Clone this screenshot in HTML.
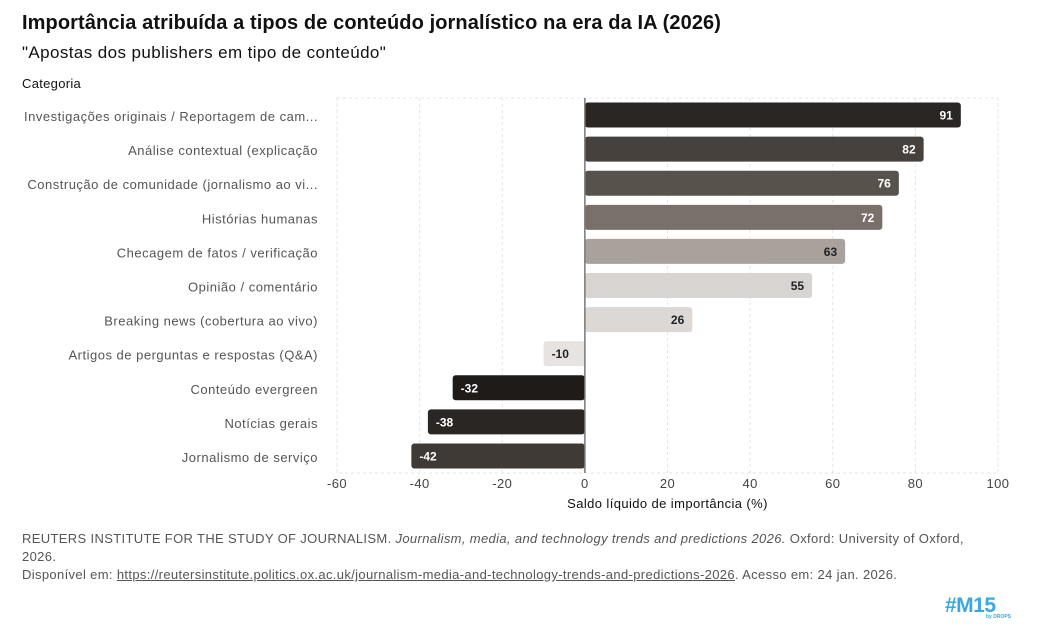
<!DOCTYPE html>
<html><head><meta charset="utf-8"><style>
body{margin:0;background:#fff;font-family:"Liberation Sans","DejaVu Sans",sans-serif;}
#wrap{position:relative;width:1037px;height:638px;overflow:hidden}
.t{position:absolute;white-space:nowrap}
</style></head><body>
<div id="wrap">
<div class="t" style="left:22px;top:12px;font-size:20px;font-weight:bold;color:#111;letter-spacing:0.1px">Importância atribuída a tipos de conteúdo jornalístico na era da IA (2026)</div>
<div class="t" style="left:22px;top:43px;font-size:17px;color:#111;letter-spacing:0.4px">"Apostas dos publishers em tipo de conteúdo"</div>
<div class="t" style="left:22px;top:76px;font-size:13px;color:#111;letter-spacing:0.3px">Categoria</div>
<svg id="chart" width="1037" height="520" style="position:absolute;left:0;top:0"></svg>
<div class="t" style="left:22px;top:530px;font-size:13px;color:#555;line-height:18px;white-space:normal;width:965px;letter-spacing:0.35px">REUTERS INSTITUTE FOR THE STUDY OF JOURNALISM. <i>Journalism, media, and technology trends and predictions 2026.</i> Oxford: University of Oxford, 2026.<br>Disponível em: <u>https://reutersinstitute.politics.ox.ac.uk/journalism-media-and-technology-trends-and-predictions-2026</u>. Acesso em: 24 jan. 2026.</div>
<div class="t" style="left:945px;top:594px;font-size:21px;font-weight:bold;color:#3aa7e0;letter-spacing:-0.5px">#M15</div>
<div class="t" style="left:986px;top:614px;font-size:5px;font-weight:bold;color:#3aa7e0">by DROPS</div>
</div>
<script>
const categories=["Investigações originais / Reportagem de cam...","Análise contextual (explicação","Construção de comunidade (jornalismo ao vi...","Histórias humanas","Checagem de fatos / verificação","Opinião / comentário","Breaking news (cobertura ao vivo)","Artigos de perguntas e respostas (Q&A)","Conteúdo evergreen","Notícias gerais","Jornalismo de serviço"];
const values=[91,82,76,72,63,55,26,-10,-32,-38,-42];
const colors=["#2a2624","#46413d","#58524d","#7a706a","#a8a19c","#d8d4d1","#dcd8d5","#e6e3e1","#1f1b19","#2a2624","#3f3a36"];
const ticks=[-60,-40,-20,0,20,40,60,80,100];
const X0=337,X1=998,Y0=98,Y1=473,xmin=-60,xmax=100;
const NS="http://www.w3.org/2000/svg";
const svg=document.getElementById('chart');
function x(v){return X0+(v-xmin)/(xmax-xmin)*(X1-X0);}
const band=(Y1-Y0)/categories.length;
function yc(i){return Y0+band*(i+0.5);}
function mk(t,a){const e=document.createElementNS(NS,t);for(const k in a)e.setAttribute(k,a[k]);svg.appendChild(e);return e;}
const fr=mk('rect',{x:X0,y:Y0,width:X1-X0,height:Y1-Y0,fill:'none',stroke:'#e4e4e4','stroke-dasharray':'3,3'});


ticks.forEach(t=>{
 const g=mk('line',{x1:x(t),x2:x(t),y1:Y0,y2:Y1,stroke:'#e4e4e4','stroke-dasharray':'3,3'});
 
 
 const l=mk('text',{x:x(t),y:Y1+15,'text-anchor':'middle','font-size':13,fill:'#444','letter-spacing':0.4});
 l.textContent=t;
 
 
});
categories.forEach((c,i)=>{
 const l=mk('text',{x:318,y:yc(i)+6,'text-anchor':'end','font-size':13,fill:'#555','letter-spacing':0.5});
 l.textContent=c;
 
 
 const v=values[i];const bh=25;
 const xa=Math.min(x(0),x(v)),w=Math.abs(x(v)-x(0));
 const r=mk('rect',{x:xa,y:yc(i)-bh/2,width:w,height:bh,rx:3,fill:colors[i]});
 
 
 const dark=[0,1,2,3,8,9,10].includes(i);
 const tx=v>=0?x(v)-8:x(v)+8;
 const vt=mk('text',{x:tx,y:yc(i)+4.5,'text-anchor':v>=0?'end':'start','font-size':12,'font-weight':'bold',fill:dark?'#fff':'#222'});
 vt.textContent=v;
 
 
});
const z=mk('line',{x1:x(0),x2:x(0),y1:Y0,y2:Y1,stroke:'#777','stroke-width':1.5});


const xt=mk('text',{x:(X0+X1)/2,y:508,'text-anchor':'middle','font-size':13,fill:'#111','letter-spacing':0.4});
xt.textContent='Saldo líquido de importância (%)';


</script>
</body></html>
